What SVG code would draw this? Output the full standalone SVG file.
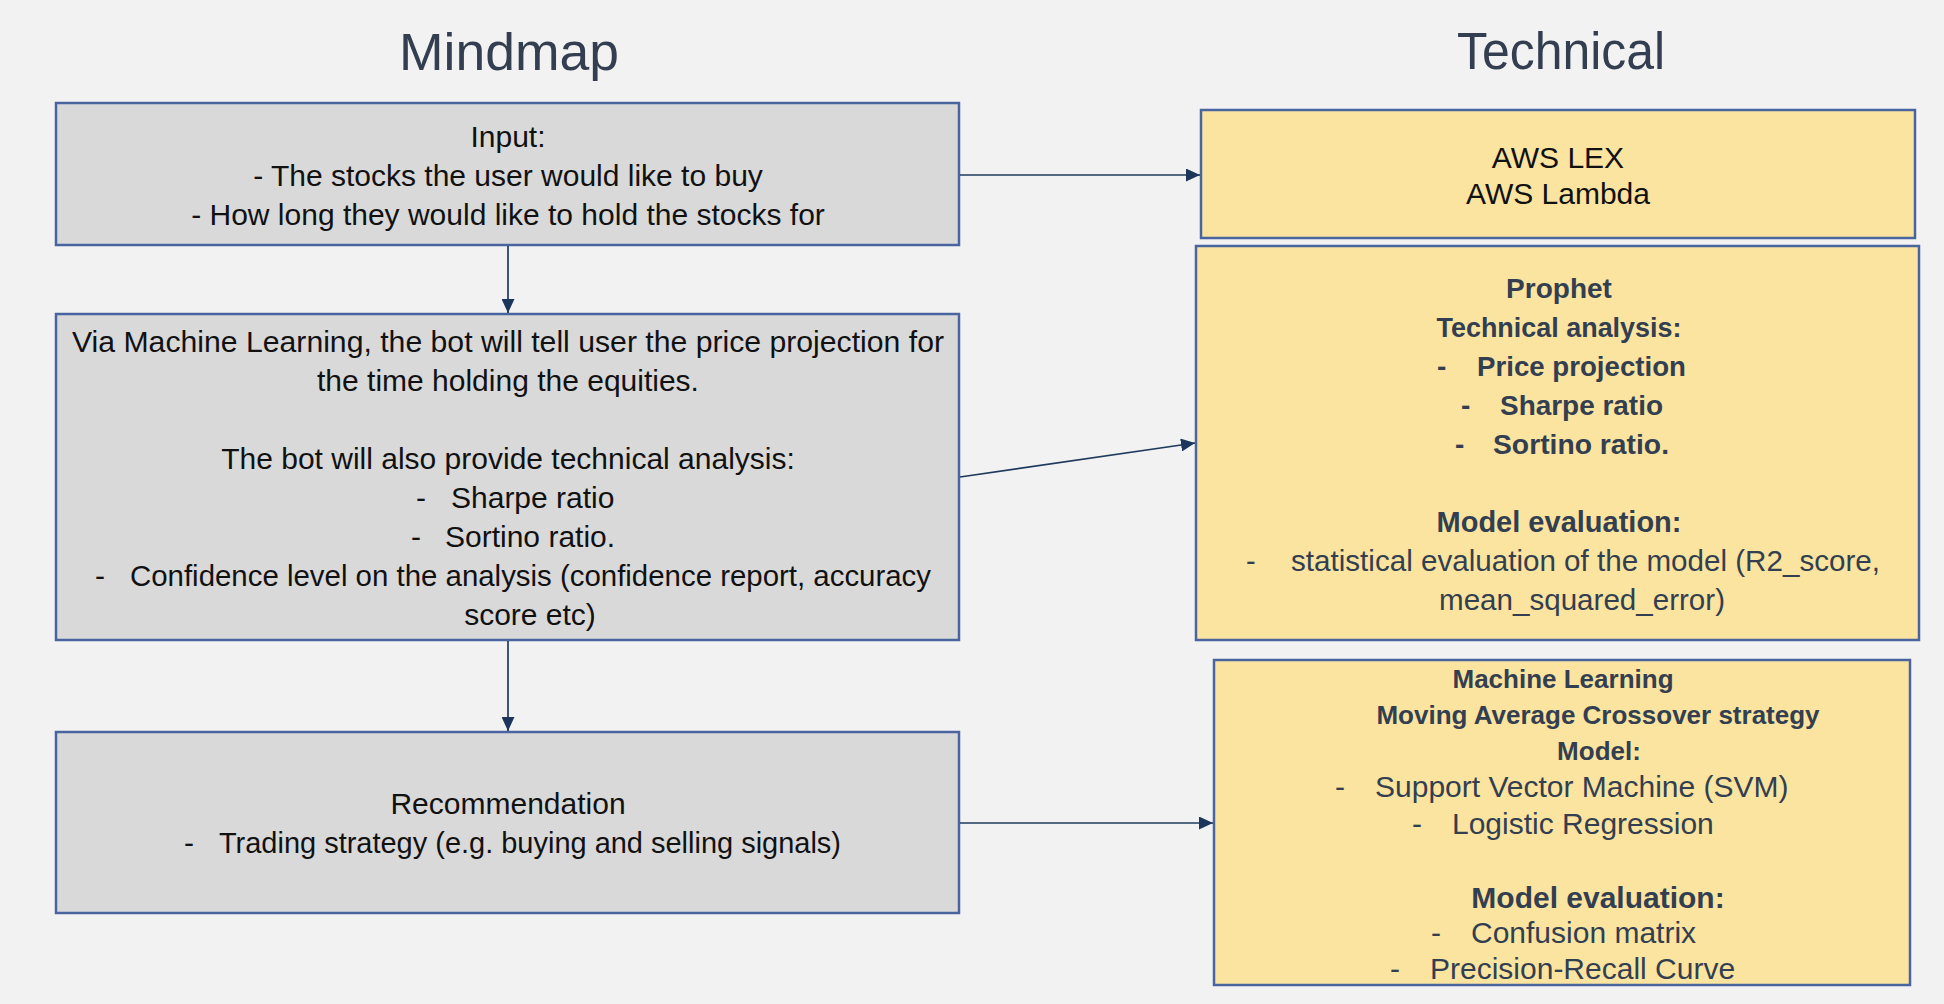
<svg xmlns="http://www.w3.org/2000/svg" width="1944" height="1004" viewBox="0 0 1944 1004">
<defs>
<marker id="arr" markerUnits="userSpaceOnUse" markerWidth="15" markerHeight="13" refX="14" refY="6.5" orient="auto">
<path d="M0,0 L14,6.5 L0,13 Z" fill="#1B365A"/>
</marker>
<style>
.title{font-family:"Liberation Sans",Arial,sans-serif;font-size:51px;fill:#333F50;text-anchor:middle}
.gray{fill:#D9D9D9;stroke:#4A64A0;stroke-width:2.5}
.yel{fill:#FAE4A0;stroke:#4A64A0;stroke-width:2.5}
.t{font-family:"Liberation Sans",Arial,sans-serif;font-size:30px;fill:#111111}
.c{text-anchor:middle}
.n{font-family:"Liberation Sans",Arial,sans-serif;fill:#333F50}
.b{font-weight:bold}
.conn{stroke:#1F3A5C;stroke-width:1.7;fill:none;marker-end:url(#arr)}
</style>
</defs>
<rect width="1944" height="1004" fill="#F2F2F2"/>
<text class="title" x="509" y="70" textLength="220" lengthAdjust="spacingAndGlyphs">Mindmap</text>
<text class="title" x="1561" y="69" textLength="208" lengthAdjust="spacingAndGlyphs">Technical</text>

<g id="input">
<rect class="gray" x="56" y="103" width="903" height="142"/>
<text class="t c" x="508" y="147">Input:</text>
<text class="t c" x="508" y="186">- The stocks the user would like to buy</text>
<text class="t c" x="508" y="225">- How long they would like to hold the stocks for</text>
</g>

<g id="ml-projection">
<rect class="gray" x="56" y="314" width="903" height="326"/>
<text class="t c" x="508" y="352" textLength="872" lengthAdjust="spacingAndGlyphs">Via Machine Learning, the bot will tell user the price projection for</text>
<text class="t c" x="508" y="391">the time holding the equities.</text>
<text class="t c" x="508" y="469">The bot will also provide technical analysis:</text>
<text class="t" x="416" y="508">-</text><text class="t" x="451" y="508">Sharpe ratio</text>
<text class="t" x="411" y="547">-</text><text class="t" x="445" y="547">Sortino ratio.</text>
<text class="t" x="95" y="586">-</text><text class="t" x="130" y="586" textLength="801" lengthAdjust="spacingAndGlyphs">Confidence level on the analysis (confidence report, accuracy</text>
<text class="t c" x="530" y="625">score etc)</text>
</g>

<g id="recommendation">
<rect class="gray" x="56" y="732" width="903" height="181"/>
<text class="t c" x="508" y="814">Recommendation</text>
<text class="t" x="184" y="853">-</text><text class="t" x="219" y="853" textLength="622" lengthAdjust="spacingAndGlyphs">Trading strategy (e.g. buying and selling signals)</text>
</g>

<g id="aws">
<rect class="yel" x="1201" y="110" width="714" height="128"/>
<text class="t c" x="1558" y="168" font-size="26">AWS LEX</text>
<text class="t c" x="1558" y="204" font-size="26">AWS Lambda</text>
</g>

<g id="prophet">
<rect class="yel" x="1196" y="246" width="723" height="394"/>
<text class="n b c" x="1559" y="298" font-size="28">Prophet</text>
<text class="n b c" x="1559" y="337" font-size="28" textLength="245" lengthAdjust="spacingAndGlyphs">Technical analysis:</text>
<text class="n b" x="1437" y="376" font-size="28">-</text><text class="n b" x="1477" y="376" font-size="28" textLength="209" lengthAdjust="spacingAndGlyphs">Price projection</text>
<text class="n b" x="1461" y="415" font-size="28">-</text><text class="n b" x="1500" y="415" font-size="28" textLength="163" lengthAdjust="spacingAndGlyphs">Sharpe ratio</text>
<text class="n b" x="1455" y="454" font-size="28">-</text><text class="n b" x="1493" y="454" font-size="28" textLength="176" lengthAdjust="spacingAndGlyphs">Sortino ratio.</text>
<text class="n b c" x="1559" y="532" font-size="29" textLength="245" lengthAdjust="spacingAndGlyphs">Model evaluation:</text>
<text class="n" x="1246" y="571" font-size="29">-</text><text class="n" x="1291" y="571" font-size="29" textLength="589" lengthAdjust="spacingAndGlyphs">statistical evaluation of the model (R2_score,</text>
<text class="n c" x="1582" y="610" font-size="29" textLength="286" lengthAdjust="spacingAndGlyphs">mean_squared_error)</text>
</g>

<g id="machine-learning">
<rect class="yel" x="1214" y="660" width="696" height="325"/>
<text class="n b c" x="1563" y="688" font-size="26">Machine Learning</text>
<text class="n b c" x="1598" y="724" font-size="26">Moving Average Crossover strategy</text>
<text class="n b c" x="1599" y="760" font-size="26">Model:</text>
<text class="n" x="1335" y="797" font-size="30">-</text><text class="n" x="1375" y="797" font-size="30">Support Vector Machine (SVM)</text>
<text class="n" x="1412" y="834" font-size="30">-</text><text class="n" x="1452" y="834" font-size="30">Logistic Regression</text>
<text class="n b c" x="1598" y="908" font-size="30">Model evaluation:</text>
<text class="n" x="1431" y="943" font-size="30">-</text><text class="n" x="1471" y="943" font-size="30">Confusion matrix</text>
<text class="n" x="1390" y="979" font-size="30">-</text><text class="n" x="1430" y="979" font-size="30">Precision-Recall Curve</text>
</g>

<g id="connectors">
<line class="conn" x1="960" y1="175" x2="1200" y2="175"/>
<line class="conn" x1="508" y1="246" x2="508" y2="313"/>
<line class="conn" x1="960" y1="477" x2="1195" y2="443"/>
<line class="conn" x1="508" y1="641" x2="508" y2="731"/>
<line class="conn" x1="960" y1="823" x2="1213" y2="823"/>
</g>
</svg>
